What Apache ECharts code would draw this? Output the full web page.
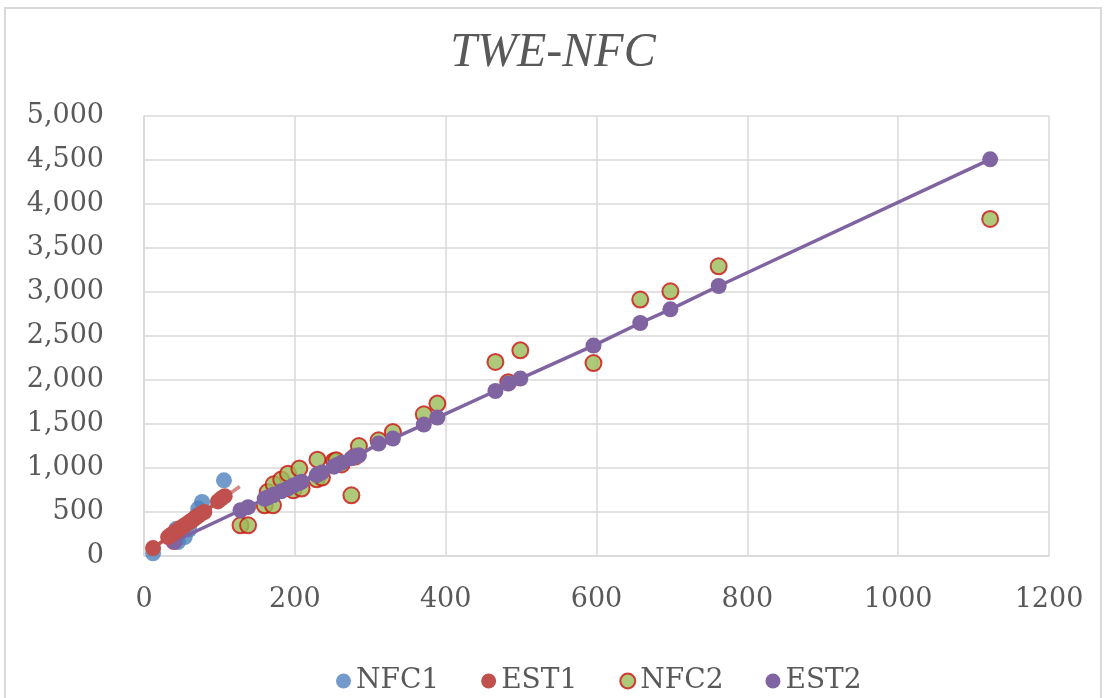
<!DOCTYPE html>
<html>
<head>
<meta charset="utf-8">
<script src="https://cdn.jsdelivr.net/npm/echarts@6/dist/echarts.min.js"></script>
<style>
  html, body { margin: 0; padding: 0; background: #ffffff; }
  #chart { width: 1106px; height: 698px; }
</style>
</head>
<body>
<div id="chart"></div>
<script>
// Series values (x, y)
const nfc1X = [12, 43, 45, 54, 60, 65, 70, 72, 77, 106];
const nfc1Y = [30, 311, 159, 216, 300, 414, 460, 539, 614, 860];

const est1X = [12, 32, 35, 38, 41, 43, 45, 48, 51, 54, 57, 60, 63, 66, 69, 72, 75, 80, 98, 102, 107];
const est1Y = [90, 215, 235, 250, 270, 285, 295, 315, 330, 350, 365, 385, 400, 420, 440, 455, 475, 500, 620, 650, 680];

// straight trend segment drawn with the EST1 markers
const est1TrendX = [12, 127];
const est1TrendY = [90, 790];

const nfc2X = [40, 128, 138, 160, 164, 171, 172, 182, 191, 198, 206, 209, 229, 230, 236, 252, 255, 262, 275, 280, 285, 311, 330, 371, 389, 466, 483, 499, 596, 658, 698, 762, 1122];
const nfc2Y = [170, 349, 349, 576, 727, 576, 815, 868, 936, 746, 993, 766, 871, 1095, 891, 1080, 1087, 1040, 690, 1130, 1250, 1315, 1409, 1610, 1732, 2205, 1975, 2337, 2193, 2914, 3008, 3292, 3830];

const est2X = [40, 128, 138, 160, 164, 171, 172, 182, 191, 198, 206, 209, 229, 230, 236, 252, 255, 262, 275, 280, 285, 311, 330, 371, 389, 466, 483, 499, 596, 658, 698, 762, 1122];
const est2Y = [165, 520, 555, 650, 665, 690, 695, 735, 770, 800, 830, 845, 920, 925, 950, 1015, 1030, 1060, 1110, 1130, 1144, 1277, 1334, 1493, 1573, 1875, 1959, 2016, 2391, 2648, 2803, 3068, 4508];

const xTicks = { min: 0, max: 1200, interval: 200 };
const yTicks = { min: 0, max: 5000, interval: 500 };

const pairs = (xs, ys) => xs.map((x, i) => [x, ys[i]]);

const FONT = "'DejaVu Serif', 'Liberation Serif', serif";
const TITLE_FONT = "'Liberation Serif', 'DejaVu Serif', serif";
const TEXT = '#595959';
const GRID = '#d9d9d9';

const chart = echarts.init(document.getElementById('chart'), null, { renderer: 'canvas' });

chart.setOption({
  backgroundColor: '#ffffff',
  animation: false,
  title: {
    text: 'TWE-NFC',
    left: 'center',
    top: 24,
    textStyle: { fontFamily: TITLE_FONT, fontStyle: 'italic', fontWeight: 'normal', fontSize: 48, color: TEXT }
  },
  legend: {
    top: 662,
    left: 331,
    itemGap: 42,
    itemWidth: 15,
    itemHeight: 15,
    icon: 'circle',
    textStyle: { fontFamily: FONT, fontSize: 28, color: TEXT },
    data: ['NFC1', 'EST1', 'NFC2', 'EST2']
  },
  graphic: [{
    type: 'rect',
    shape: { x: 5, y: 8, width: 1096, height: 720 },
    style: { fill: 'none', stroke: '#d9d9d9', lineWidth: 2 },
    silent: true
  }],
  grid: { left: 144, right: 57, top: 116, bottom: 142 },
  xAxis: {
    type: 'value',
    min: xTicks.min, max: xTicks.max, interval: xTicks.interval,
    axisLine: { show: true, lineStyle: { color: GRID, width: 1.5 } },
    axisTick: { show: false },
    splitLine: { show: true, lineStyle: { color: GRID, width: 1.5 } },
    axisLabel: { fontFamily: FONT, fontSize: 27, color: TEXT, margin: 30, formatter: v => String(v) }
  },
  yAxis: {
    type: 'value',
    min: yTicks.min, max: yTicks.max, interval: yTicks.interval,
    axisLine: { show: true, lineStyle: { color: GRID, width: 1.5 } },
    axisTick: { show: false },
    splitLine: { show: true, lineStyle: { color: GRID, width: 1.5 } },
    axisLabel: { fontFamily: FONT, fontSize: 27, color: TEXT, margin: 40,
      formatter: v => v.toLocaleString('en-US') }
  },
  // second-set series are drawn first so the first set sits on top of them
  series: [
    {
      name: 'NFC2', type: 'scatter', symbol: 'circle', symbolSize: 16,
      itemStyle: { color: '#9bbb59', borderColor: '#cc1111', borderWidth: 2 },
      data: pairs(nfc2X, nfc2Y)
    },
    {
      name: 'EST2', type: 'line', symbol: 'circle', symbolSize: 16,
      itemStyle: { color: '#8064a2' },
      lineStyle: { color: '#8064a2', width: 3.5 },
      data: pairs(est2X, est2Y)
    },
    {
      name: 'NFC1', type: 'scatter', symbol: 'circle', symbolSize: 16,
      itemStyle: { color: '#4f81bd' },
      data: pairs(nfc1X, nfc1Y)
    },
    {
      name: 'EST1 trend', type: 'line', symbol: 'none', silent: true,
      lineStyle: { color: '#d78784', width: 3.5 },
      data: pairs(est1TrendX, est1TrendY)
    },
    {
      name: 'EST1', type: 'line', symbol: 'circle', symbolSize: 16,
      itemStyle: { color: '#c0504d' },
      lineStyle: { color: '#c0504d', width: 3.5 },
      data: pairs(est1X, est1Y)
    }
  ]
});
</script>
</body>
</html>
